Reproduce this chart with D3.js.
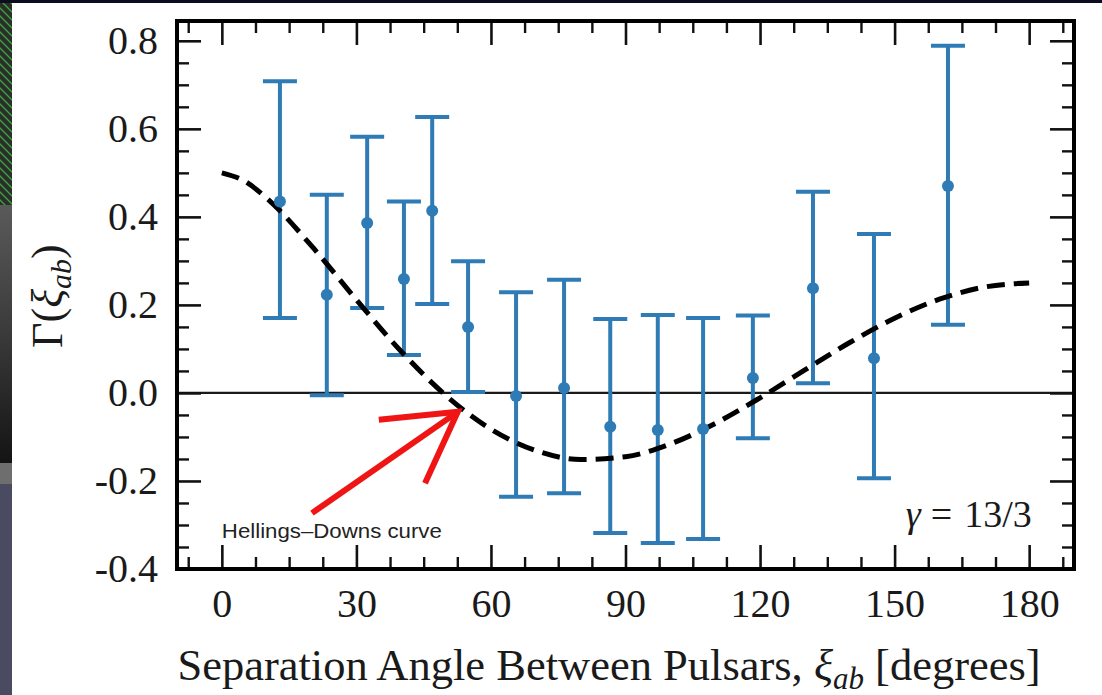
<!DOCTYPE html>
<html><head><meta charset="utf-8">
<script src="https://cdn.jsdelivr.net/npm/d3@7"></script>
<style>body{margin:0;background:#fff}svg{display:block}</style>
</head><body><svg id="c" width="1102" height="695"></svg>
<script>
// ---- data ----
const angles = [12.95, 23.4, 32.4, 40.6, 46.9, 54.9, 65.6, 76.3, 86.6, 97.2, 107.3, 118.4, 131.8, 145.4, 161.9];
const gamma  = [0.435, 0.223, 0.386, 0.259, 0.414, 0.150, -0.007, 0.011, -0.077, -0.084, -0.082, 0.034, 0.238, 0.079, 0.470];
const upper  = [0.708, 0.450, 0.582, 0.435, 0.627, 0.299, 0.229, 0.257, 0.168, 0.177, 0.170, 0.176, 0.457, 0.361, 0.789];
const lower  = [0.170, -0.005, 0.193, 0.086, 0.202, 0.002, -0.236, -0.228, -0.318, -0.341, -0.332, -0.103, 0.022, -0.194, 0.155];

const hdAngles = [0, 5, 10, 20, 30, 40, 50, 60, 70, 80, 90, 100, 110, 120, 130, 140, 150, 160, 170, 180];
const hdValues = [0.500, 0.4816, 0.4425, 0.3341, 0.2116, 0.0942, -0.0062, -0.0824, -0.1309, -0.1511, -0.1449, -0.1159, -0.0693, -0.0111, 0.0522, 0.1145, 0.1697, 0.2130, 0.2405, 0.2500];

const xMajor = [0, 30, 60, 90, 120, 150, 180];
const xMinor = [-7.5, 7.5, 15, 22.5, 37.5, 45, 52.5, 67.5, 75, 82.5, 97.5, 105, 112.5, 127.5, 135, 142.5, 157.5, 165, 172.5, 187.5];
const yMajor = [-0.4, -0.2, 0.0, 0.2, 0.4, 0.6, 0.8];
const yMinor = [-0.35, -0.3, -0.25, -0.15, -0.1, -0.05, 0.05, 0.1, 0.15, 0.25, 0.3, 0.35, 0.45, 0.5, 0.55, 0.65, 0.7, 0.75];

const xLabelText = "Separation Angle Between Pulsars, ";
const annotationText = "Hellings\u2013Downs curve";

// ---- drawing ----
const svg = d3.select("#c");
const W = 1102, H = 695;
const serif = "'Liberation Serif','Times New Roman',serif";

// screenshot surroundings
const defs = svg.append("defs");
const pat = defs.append("pattern").attr("id","hatch").attr("width",8).attr("height",8)
  .attr("patternUnits","userSpaceOnUse");
pat.append("rect").attr("width",8).attr("height",8).attr("fill","#2a2f2a");
pat.append("path").attr("d","M0,0 L8,8 M-2,6 L2,10 M6,-2 L10,2").attr("stroke","#3fa33f").attr("stroke-width",1.3);
const grad = defs.append("linearGradient").attr("id","grayg").attr("x1",0).attr("y1",0).attr("x2",0).attr("y2",1);
grad.append("stop").attr("offset",0).attr("stop-color","#5a5a5a");
grad.append("stop").attr("offset",0.5).attr("stop-color","#3a3a3a");
grad.append("stop").attr("offset",1).attr("stop-color","#141414");
svg.append("rect").attr("x",0).attr("y",0).attr("width",W).attr("height",H).attr("fill","#fff");
svg.append("rect").attr("x",0).attr("y",0).attr("width",12).attr("height",205).attr("fill","url(#hatch)");
svg.append("rect").attr("x",0).attr("y",205).attr("width",12).attr("height",258).attr("fill","url(#grayg)");
svg.append("rect").attr("x",0).attr("y",463).attr("width",12).attr("height",21).attr("fill","#6e6e6e");
svg.append("rect").attr("x",0).attr("y",484).attr("width",12).attr("height",H-484).attr("fill","#4a4a60");
svg.append("rect").attr("x",0).attr("y",0).attr("width",W).attr("height",3).attr("fill","#0c0c20");

const x = d3.scaleLinear().domain([-10, 190]).range([177, 1074]);
const y = d3.scaleLinear().domain([-0.4, 0.845]).range([569, 21]);
const [x0, x1] = x.range(), [y0, y1] = y.range();

// zero line
svg.append("line").attr("x1",x0).attr("x2",x1).attr("y1",y(0)).attr("y2",y(0))
  .attr("stroke","#1a1a1a").attr("stroke-width",2.2);

// axes
function styleAxis(g, w){
  g.select(".domain").remove();
  g.selectAll("line").attr("stroke","#111").attr("stroke-width",w);
  g.selectAll("text").attr("font-family",serif).attr("font-size",40).attr("fill","#1a1a1a");
  g.attr("font-family",null).attr("font-size",null);
}
const yfmt = d => d.toFixed(1);
svg.append("g").attr("transform",`translate(0,${y0})`)
  .call(d3.axisBottom(x).tickValues(xMajor).tickSize(-24).tickPadding(20).tickFormat(d3.format("d"))).call(g=>styleAxis(g,2.6));
svg.append("g").attr("transform",`translate(0,${y0})`)
  .call(d3.axisBottom(x).tickValues(xMinor).tickSize(-12).tickFormat("")).call(g=>styleAxis(g,2.4));
svg.append("g").attr("transform",`translate(0,${y1})`)
  .call(d3.axisTop(x).tickValues(xMajor).tickSize(-24).tickFormat("")).call(g=>styleAxis(g,2.6));
svg.append("g").attr("transform",`translate(0,${y1})`)
  .call(d3.axisTop(x).tickValues(xMinor).tickSize(-12).tickFormat("")).call(g=>styleAxis(g,2.4));
svg.append("g").attr("transform",`translate(${x0},0)`)
  .call(d3.axisLeft(y).tickValues(yMajor).tickSize(-24).tickPadding(19).tickFormat(yfmt)).call(g=>styleAxis(g,2.6));
svg.append("g").attr("transform",`translate(${x0},0)`)
  .call(d3.axisLeft(y).tickValues(yMinor).tickSize(-12).tickFormat("")).call(g=>styleAxis(g,2.4));
svg.append("g").attr("transform",`translate(${x1},0)`)
  .call(d3.axisRight(y).tickValues(yMajor).tickSize(-24).tickFormat("")).call(g=>styleAxis(g,2.6));
svg.append("g").attr("transform",`translate(${x1},0)`)
  .call(d3.axisRight(y).tickValues(yMinor).tickSize(-12).tickFormat("")).call(g=>styleAxis(g,2.4));

// error bars
const blue = "#2f7bb5";
const pts = angles.map((a,i)=>({a, g:gamma[i], hi:upper[i], lo:lower[i]}));
const eb = svg.append("g");
eb.selectAll("line.v").data(pts).join("line").attr("class","v")
  .attr("x1",d=>x(d.a)).attr("x2",d=>x(d.a)).attr("y1",d=>y(d.lo)).attr("y2",d=>y(d.hi))
  .attr("stroke",blue).attr("stroke-width",4);
eb.selectAll("line.ct").data(pts).join("line").attr("class","ct")
  .attr("x1",d=>x(d.a)-17).attr("x2",d=>x(d.a)+17).attr("y1",d=>y(d.hi)).attr("y2",d=>y(d.hi))
  .attr("stroke",blue).attr("stroke-width",4);
eb.selectAll("line.cb").data(pts).join("line").attr("class","cb")
  .attr("x1",d=>x(d.a)-17).attr("x2",d=>x(d.a)+17).attr("y1",d=>y(d.lo)).attr("y2",d=>y(d.lo))
  .attr("stroke",blue).attr("stroke-width",4);

// Hellings-Downs curve
const hd = hdAngles.map((a,i)=>[a, hdValues[i]]);
svg.append("path").datum(hd)
  .attr("d", d3.line().x(d=>x(d[0])).y(d=>y(d[1])).curve(d3.curveMonotoneX))
  .attr("fill","none").attr("stroke","#000").attr("stroke-width",5)
  .attr("stroke-dasharray","18,9");

// markers
svg.append("g").selectAll("circle").data(pts).join("circle")
  .attr("cx",d=>x(d.a)).attr("cy",d=>y(d.g)).attr("r",6).attr("fill",blue);

// frame
svg.append("rect").attr("x",x0).attr("y",y1).attr("width",x1-x0).attr("height",y0-y1)
  .attr("fill","none").attr("stroke","#000").attr("stroke-width",4);

// annotation arrow (data coordinates)
const arrowTail = [20.1, -0.273], arrowTip = [52.6, -0.043];
const wingA = [35.0, -0.061], wingB = [45.3, -0.205];
const red = "#f01515";
const ar = svg.append("g").attr("stroke",red).attr("stroke-width",6).attr("fill","none");
ar.append("line").attr("x1",x(arrowTail[0])).attr("y1",y(arrowTail[1])).attr("x2",x(arrowTip[0])).attr("y2",y(arrowTip[1]));
ar.append("polyline").attr("points",[wingA, arrowTip, wingB].map(p=>`${x(p[0])},${y(p[1])}`).join(" "));

svg.append("text").attr("x",x(0)).attr("y",y(-0.330))
  .attr("font-family","'Liberation Sans',Arial,sans-serif").attr("font-size",20).attr("fill","#222")
  .attr("textLength",220).attr("lengthAdjust","spacingAndGlyphs")
  .text(annotationText);

// gamma label
const gl = svg.append("text").attr("x",x(180.6)).attr("y",y(-0.305)).attr("text-anchor","end")
  .attr("font-family",serif).attr("font-size",38).attr("fill","#1a1a1a");
gl.append("tspan").attr("font-style","italic").text("\u03b3");
gl.append("tspan").attr("dx",10).text("=");
gl.append("tspan").attr("dx",12).text("13/3");

// x label
const xl = svg.append("text").attr("x",609).attr("y",680).attr("text-anchor","middle")
  .attr("font-family",serif).attr("font-size",44.5).attr("fill","#1a1a1a");
xl.append("tspan").text(xLabelText);
xl.append("tspan").attr("font-style","italic").text("\u03be");
xl.append("tspan").attr("font-style","italic").attr("font-size",31).attr("dy",9).text("ab");
xl.append("tspan").attr("dy",-9).text(" [degrees]");

// y label
const yl = svg.append("text").attr("transform",`translate(62,${y(0.22)}) rotate(-90)`).attr("text-anchor","middle")
  .attr("font-family",serif).attr("font-size",44).attr("fill","#1a1a1a");
yl.append("tspan").text("\u0393(");
yl.append("tspan").attr("font-style","italic").text("\u03be");
yl.append("tspan").attr("font-style","italic").attr("font-size",30).attr("dy",9).text("ab");
yl.append("tspan").attr("dy",-9).text(")");
</script></body></html>
